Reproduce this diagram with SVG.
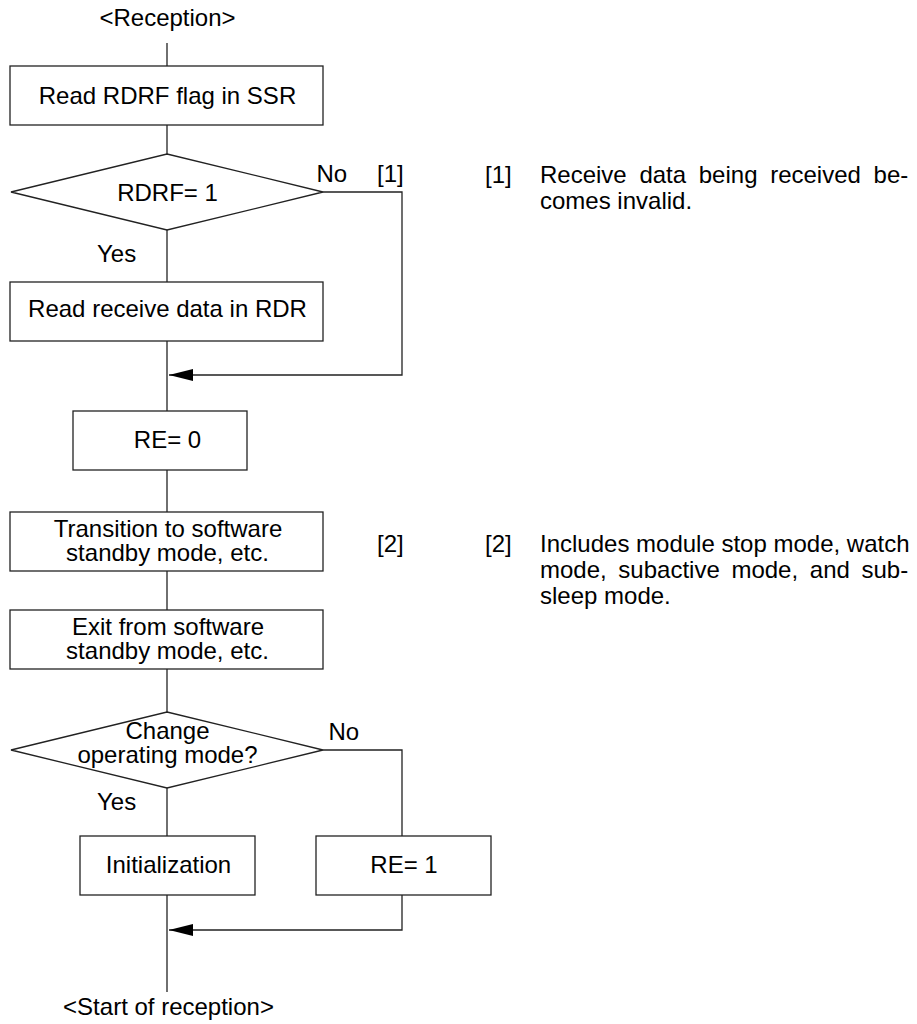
<svg xmlns="http://www.w3.org/2000/svg" width="917" height="1024" viewBox="0 0 917 1024">
<style>
text{font-family:"Liberation Sans",Arial,sans-serif;font-size:24px;fill:#000}
.c{text-anchor:middle}
.box{fill:#fff;stroke:#222;stroke-width:1.3}
.ln{fill:none;stroke:#222;stroke-width:1.3}
</style>
<defs>
<marker id="ah" markerUnits="userSpaceOnUse" viewBox="0 -6 24 12" refX="24" refY="0" markerWidth="24" markerHeight="12" orient="auto">
<path d="M0,-6 L24,0 L0,6 Z" fill="#000"/>
</marker>
</defs>
<rect width="917" height="1024" fill="#fff"/>
<g id="connectors">
<path class="ln" d="M167,43 V66"/>
<path class="ln" d="M167,125 V154"/>
<path class="ln" d="M167,230 V282"/>
<path class="ln" d="M323,192 H402 V375 H169" marker-end="url(#ah)"/>
<path class="ln" d="M167,341 V411"/>
<path class="ln" d="M167,470 V512"/>
<path class="ln" d="M167,571 V610"/>
<path class="ln" d="M167,669 V712"/>
<path class="ln" d="M323,750 H402 V836"/>
<path class="ln" d="M167,788 V836"/>
<path class="ln" d="M402,895 V930 H169" marker-end="url(#ah)"/>
<path class="ln" d="M167,895 V992"/>
<text x="316.5" y="182">No</text>
<text x="377" y="182">[1]</text>
<text x="97" y="262">Yes</text>
<text x="377" y="552">[2]</text>
<text x="328.5" y="740">No</text>
<text x="97" y="810">Yes</text>
</g>
<g id="start">
<text class="c" x="167.5" y="26">&lt;Reception&gt;</text>
</g>
<g id="n1">
<rect class="box" x="10" y="66" width="313" height="59"/>
<text class="c" x="167.5" y="104">Read RDRF flag in SSR</text>
</g>
<g id="d1">
<polygon class="box" points="167,154 323,192 167,230 11,192"/>
<text class="c" x="167.5" y="201">RDRF= 1</text>
</g>
<g id="n2">
<rect class="box" x="10" y="282" width="313" height="59"/>
<text class="c" x="167.5" y="317">Read receive data in RDR</text>
</g>
<g id="n3">
<rect class="box" x="73" y="411" width="174" height="59"/>
<text class="c" x="167.5" y="448">RE= 0</text>
</g>
<g id="n4">
<rect class="box" x="10" y="512" width="313" height="59"/>
<text class="c" x="168" y="537">Transition to software</text>
<text class="c" x="167.5" y="561">standby mode, etc.</text>
</g>
<g id="n5">
<rect class="box" x="10" y="610" width="313" height="59"/>
<text class="c" x="168" y="635">Exit from software</text>
<text class="c" x="167.5" y="659">standby mode, etc.</text>
</g>
<g id="d2">
<polygon class="box" points="167,712 323,750 167,788 11,750"/>
<text class="c" x="167.5" y="739">Change</text>
<text class="c" x="167.5" y="763">operating mode?</text>
</g>
<g id="n6">
<rect class="box" x="80" y="836" width="175" height="59"/>
<text class="c" x="168.5" y="873">Initialization</text>
</g>
<g id="n7">
<rect class="box" x="316" y="836" width="175" height="59"/>
<text class="c" x="404" y="873">RE= 1</text>
</g>
<g id="end">
<text class="c" x="168.5" y="1015">&lt;Start of reception&gt;</text>
</g>
<g id="notes">
<text x="485" y="182.5">[1]</text>
<text x="540" y="182.5" word-spacing="6">Receive data being received be-</text>
<text x="540" y="208.5">comes invalid.</text>
<text x="485" y="552">[2]</text>
<text x="540" y="552">Includes module stop mode, watch</text>
<text x="540" y="578" word-spacing="5">mode, subactive mode, and sub-</text>
<text x="540" y="604">sleep mode.</text>
</g>
</svg>
